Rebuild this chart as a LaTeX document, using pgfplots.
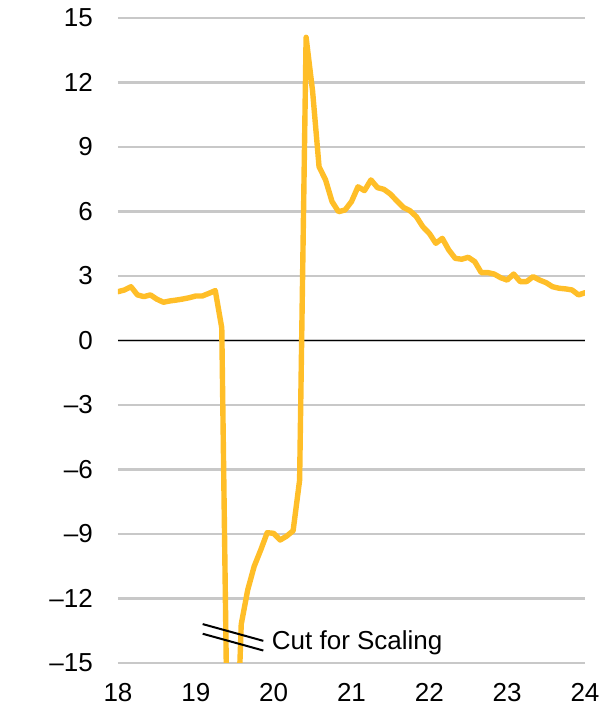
\documentclass[border=0pt]{standalone}
\usepackage{fontspec}
\setmainfont{Liberation Sans}
\usepackage{pgfplots}
\pgfplotsset{compat=1.18}
\definecolor{gold}{RGB}{255,190,40}
\definecolor{gridgray}{RGB}{200,200,200}
\pgfplotstableread{
x y
18.0000 2.27
18.0833 2.35
18.1667 2.50
18.2500 2.12
18.3333 2.04
18.4167 2.12
18.5000 1.92
18.5833 1.78
18.6667 1.84
18.7500 1.88
18.8333 1.93
18.9167 1.99
19.0000 2.07
19.0833 2.07
19.1667 2.19
19.2500 2.32
19.3333 0.58
19.4167 -22.0
19.5000 -22.0
19.5833 -13.2
19.6667 -11.6
19.7500 -10.5
19.8333 -9.75
19.9167 -8.94
20.0000 -8.97
20.0833 -9.28
20.1667 -9.10
20.2500 -8.85
20.3333 -6.5
20.4167 14.1
20.5000 11.6
20.5833 8.08
20.6667 7.47
20.7500 6.46
20.8333 5.99
20.9167 6.07
21.0000 6.46
21.0833 7.15
21.1667 6.97
21.2500 7.47
21.3333 7.11
21.4167 7.03
21.5000 6.81
21.5833 6.49
21.6667 6.19
21.7500 6.04
21.8333 5.76
21.9167 5.29
22.0000 4.98
22.0833 4.52
22.1667 4.75
22.2500 4.21
22.3333 3.82
22.4167 3.78
22.5000 3.87
22.5833 3.67
22.6667 3.16
22.7500 3.16
22.8333 3.09
22.9167 2.92
23.0000 2.81
23.0833 3.09
23.1667 2.74
23.2500 2.74
23.3333 2.97
23.4167 2.81
23.5000 2.69
23.5833 2.50
23.6667 2.43
23.7500 2.40
23.8333 2.35
23.9167 2.12
24.0000 2.22
}\datatable
\begin{document}
\fontsize{26}{31}\selectfont
\begin{tikzpicture}
\begin{axis}[
  scale only axis, width=467pt, height=645pt,
  xmin=18, xmax=24, ymin=-15, ymax=15,
  axis line style={draw=none},
  major tick length=0pt,
  xtick={18,19,20,21,22,23,24},
  xticklabels={18,19,20,21,22,23,24},
  ytick={-15,-12,-9,-6,-3,0,3,6,9,12,15},
  yticklabels={\textendash15,\textendash12,\textendash9,\textendash6,\textendash3,0,3,6,9,12,15},
  ymajorgrids,
  grid style={gridgray, line width=2.2pt},
  tick label style={font=\fontsize{26}{31}\selectfont},
  yticklabel style={inner sep=0pt, xshift=-25pt},
  xticklabel style={inner sep=0pt, yshift=-20pt},
]
\addplot[black, line width=1.8pt] coordinates {(18,0) (24,0)};
\addplot[gold, line width=5.4pt, line join=round, line cap=round] table[x=x,y=y] {\datatable};
\draw[black, line width=2pt] (axis cs:19.088,-13.19) -- (axis cs:19.867,-13.97);
\draw[black, line width=2pt] (axis cs:19.088,-13.64) -- (axis cs:19.867,-14.42);
\node[anchor=base west, inner sep=0pt, font=\fontsize{26}{31}\selectfont] at (axis cs:19.975,-14.35) {Cut for Scaling};
\node[rotate=90, inner sep=0pt, font=\fontsize{26}{31}\selectfont] at ([xshift=-94pt]axis cs:18,0) {Millions};
\end{axis}
\path (current axis.south west) ++(-118pt,-43pt) rectangle ++(597pt,706pt);
\end{tikzpicture}
\end{document}
